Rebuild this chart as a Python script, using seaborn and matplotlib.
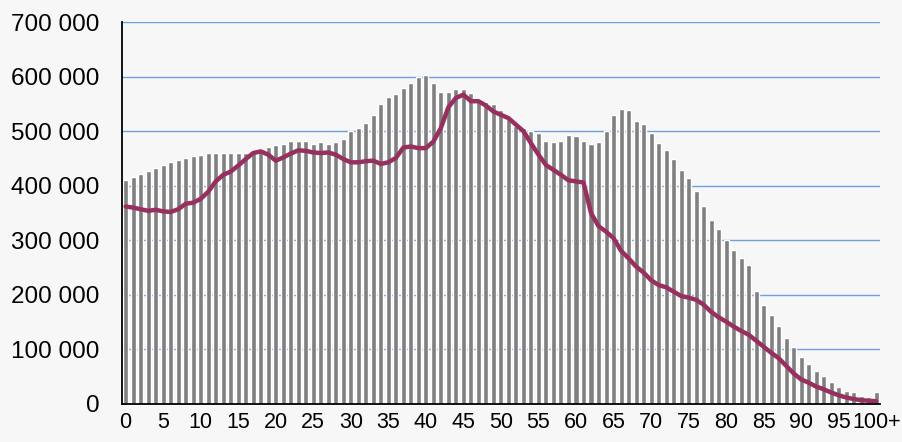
import numpy as np
import pandas as pd
import matplotlib.pyplot as plt
import seaborn as sns
from matplotlib.ticker import FuncFormatter, MultipleLocator

# age groups 0..99 and 100+
ages = [str(a) for a in range(100)] + ['100+']

# grey bars
bar_values = [
    411, 416, 422, 427, 433, 438, 444, 448, 451, 455,
    457, 460, 460, 460, 460, 460, 460, 460, 462, 471,
    475, 477, 482, 482, 482, 477, 481, 477, 481, 486,
    501, 506, 515, 530, 550, 563, 569, 580, 589, 600,
    603, 589, 572, 572, 578, 578, 570, 559, 554, 550,
    539, 523, 510, 506, 501, 497, 482, 481, 482, 493,
    492, 482, 477, 481, 501, 530, 541, 539, 519, 514,
    497, 479, 466, 449, 429, 415, 391, 363, 337, 321,
    301, 282, 268, 255, 207, 182, 163, 143, 121, 105,
    86, 73, 61, 51, 40, 31, 24, 22, 15, 13,
    22,
]

# purple line
line_values = [
    362, 360, 357, 354, 356, 353, 352, 357, 367, 369,
    376, 389, 408, 420, 426, 437, 449, 460, 463, 457,
    446, 452, 459, 465, 464, 461, 460, 461, 457, 449,
    443, 443, 445, 446, 440, 443, 451, 470, 472, 469,
    469, 481, 506, 544, 561, 567, 555, 555, 547, 536,
    530, 524, 512, 500, 478, 457, 438, 429, 420, 410,
    408, 406, 350, 326, 316, 304, 281, 267, 252, 241,
    227, 218, 214, 206, 198, 195, 191, 182, 169, 159,
    151, 142, 134, 127, 116, 105, 94, 84, 70, 56,
    45, 39, 32, 27, 21, 16, 12, 9, 7, 6,
    5,
]

tick_labels = [str(a) for a in range(0, 100, 5)] + ['100+']

df = pd.DataFrame({
    'Age': ages,
    'Bars': np.array(bar_values) * 1000,
    'Line': np.array(line_values) * 1000,
})

sns.set_style('white')
plt.rcParams['font.family'] = ['Liberation Sans', 'DejaVu Sans']

bg = '#f7f7f7'
fig = plt.figure(figsize=(9.03, 4.42), dpi=100, facecolor=bg)
ax = fig.add_axes([0.135, 0.086, 0.8395, 0.864])
ax.set_facecolor(bg)

sns.barplot(data=df, x='Age', y='Bars', order=ages, color='#808080',
            saturation=1, width=0.67, ax=ax)
sns.lineplot(x=np.arange(len(ages)), y=df['Line'], color='#98305f',
             linewidth=3.2, ax=ax)

ax.set_ylim(0, 700000)
ax.set_xlim(-0.5, len(ages) - 0.5)
ax.set_yticks(range(0, 700001, 100000))
ax.yaxis.set_major_formatter(
    FuncFormatter(lambda v, p: f'{int(v):,}'.replace(',', ' ')))
ax.grid(axis='y', color='#6f9fde', linewidth=1)
ax.set_axisbelow(True)

ax.set_xticks(range(0, 101, 5))
ax.set_xticklabels(tick_labels)
ax.xaxis.set_minor_locator(MultipleLocator(2, offset=-0.5))
ax.tick_params(axis='x', which='major', length=0, pad=6, labelsize=15.5,
               labelcolor='black')
ax.tick_params(axis='x', which='minor', length=7, direction='inout',
               color='#555555', width=1)
ax.tick_params(axis='y', length=5, direction='out', color='black',
               labelsize=17.5, pad=11, labelcolor='black')

ax.set_xlabel('')
ax.set_ylabel('')
for s in ['top', 'right']:
    ax.spines[s].set_visible(False)
ax.spines['left'].set_color('black')
ax.spines['left'].set_linewidth(1.3)
ax.spines['bottom'].set_color('black')
ax.spines['bottom'].set_linewidth(1.3)

fig.savefig('out.png', dpi=100, facecolor=bg)
